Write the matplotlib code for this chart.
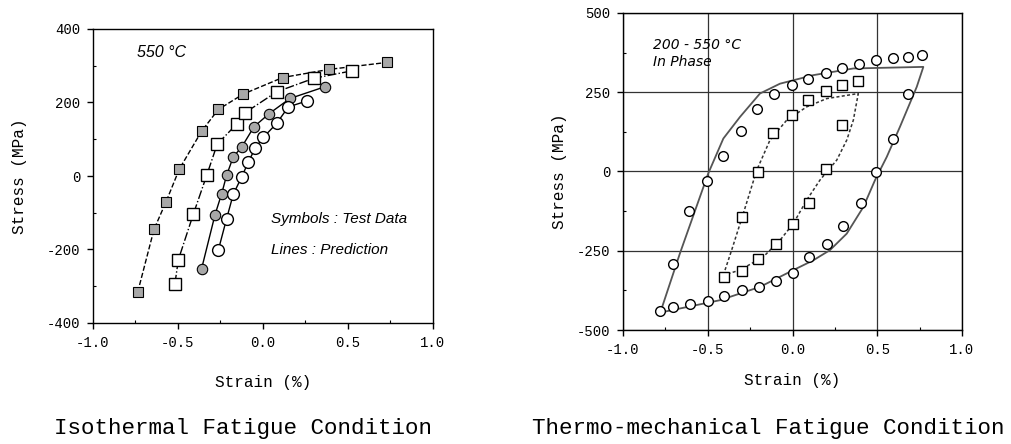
import matplotlib
matplotlib.use("Agg")
import matplotlib.pyplot as plt
from matplotlib.ticker import MultipleLocator

plt.rcParams['axes.unicode_minus'] = False

# ISOTHERMAL DATA (550 C), FOUR CURVES
iso_a_strain = [-0.737, -0.641, -0.571, -0.492, -0.361, -0.263, -0.116, 0.116, 0.388, 0.728]
iso_a_stress = [-316, -145, -71, 19, 122, 181, 223, 268, 290, 309]
iso_b_strain = [-0.518, -0.498, -0.41, -0.331, -0.269, -0.155, -0.106, 0.08, 0.3, 0.522]
iso_b_stress = [-293, -228, -104, 2, 87, 141, 172, 229, 266, 286]
iso_c_strain = [-0.361, -0.282, -0.243, -0.214, -0.175, -0.125, -0.053, 0.037, 0.159, 0.365]
iso_c_stress = [-252, -105, -48, 2, 52, 79, 134, 170, 211, 243]
iso_d_strain = [-0.263, -0.214, -0.175, -0.125, -0.086, -0.047, 0.002, 0.08, 0.149, 0.257]
iso_d_stress = [-202, -116, -50, -2, 38, 75, 105, 143, 188, 204]

# TMF TEST DATA, OUTER LOOP (CIRCLES)
tmf_up_strain = [-0.782, -0.703, -0.609, -0.503, -0.408, -0.306, -0.208, -0.109, -0.003,
                 0.093, 0.196, 0.29, 0.394, 0.491, 0.591, 0.684, 0.762]
tmf_up_stress = [-440, -293, -124, -30, 49, 128, 196, 246, 274,
                 293, 312, 327, 338, 351, 359, 361, 366]
tmf_dn_strain = [0.684, 0.595, 0.493, 0.402, 0.3, 0.202, 0.099, 0.005, -0.097,
                 -0.198, -0.3, -0.404, -0.497, -0.605, -0.703]
tmf_dn_stress = [243, 104, -3, -98, -172, -229, -269, -320, -345,
                 -364, -374, -393, -409, -418, -429]

# TMF TEST DATA, INNER LOOP (SQUARES)
sq_strain = [-0.404, -0.3, -0.202, -0.113, -0.005, 0.093, 0.196, 0.294, 0.388,
             0.294, 0.198, 0.099, 0.005, -0.097, -0.202, -0.3]
sq_stress = [-334, -145, -1, 120, 177, 225, 254, 272, 285,
             146, 9, -98, -167, -228, -276, -313]

# TMF PREDICTION, OUTER LOOP
pr_out_strain = [-0.78, -0.664, -0.497, -0.408, -0.31, -0.192, -0.074, 0.123, 0.359, 0.772,
                 0.733, 0.634, 0.556, 0.487, 0.418, 0.32, 0.221, 0.123, 0.005, -0.192,
                 -0.428, -0.78]
pr_out_stress = [-445, -258, -6, 104, 172, 246, 277, 304, 325, 330,
                 267, 141, 46, -27, -112, -196, -248, -280, -311, -364,
                 -406, -445]

# TMF PREDICTION, INNER LOOP
pr_in_strain = [-0.408, -0.359, -0.29, -0.211, -0.133, -0.034, 0.084, 0.202, 0.388,
                0.359, 0.32, 0.261, 0.162, 0.084, 0.005, -0.074, -0.172, -0.31, -0.408]
pr_in_stress = [-327, -248, -132, 4, 99, 162, 204, 230, 246,
                162, 99, 36, -27, -90, -164, -217, -269, -311, -327]

mono = "Liberation Mono"

fig = plt.figure(figsize=(10.12, 4.44), dpi=100)

# LEFT PANEL
ax1 = fig.add_axes([93 / 1012, 121 / 444, 340 / 1012, 294 / 444])
ax1.plot(iso_a_strain, iso_a_stress, ls="--", color="black", lw=1,
         marker="s", ms=7, mfc="#a8a8a8", mec="black", mew=0.8)
ax1.plot(iso_b_strain, iso_b_stress, ls="-.", color="black", lw=1,
         marker="s", ms=8, mfc="white", mec="black", mew=1)
ax1.plot(iso_c_strain, iso_c_stress, ls="-", color="black", lw=1,
         marker="o", ms=7.5, mfc="#a8a8a8", mec="black", mew=0.8)
ax1.plot(iso_d_strain, iso_d_stress, ls="-", color="black", lw=1,
         marker="o", ms=8.5, mfc="white", mec="black", mew=1)
ax1.set_xlim(-1, 1)
ax1.set_ylim(-400, 400)
ax1.xaxis.set_major_locator(MultipleLocator(0.5))
ax1.xaxis.set_minor_locator(MultipleLocator(0.25))
ax1.yaxis.set_major_locator(MultipleLocator(200))
ax1.yaxis.set_minor_locator(MultipleLocator(100))
ax1.text(-0.74, 337, "550 °C", style="italic", fontsize=11.5, family="Liberation Sans",
         va="center")
ax1.text(0.05, -118, "Symbols : Test Data", style="italic", fontsize=11,
         family="Liberation Sans", va="center")
ax1.text(0.05, -202, "Lines : Prediction", style="italic", fontsize=11,
         family="Liberation Sans", va="center")

# RIGHT PANEL
ax2 = fig.add_axes([623 / 1012, 114 / 444, 339 / 1012, 317 / 444])
ax2.grid(True, which="major", color="#333333", lw=0.9)
ax2.set_axisbelow(True)
ax2.plot(pr_out_strain, pr_out_stress, ls="-", color="#555555", lw=1.3)
ax2.plot(pr_in_strain, pr_in_stress, ls=(0, (2, 1.5)), color="#333333", lw=1.1)
ax2.plot(tmf_up_strain, tmf_up_stress, ls="none", marker="o", ms=7,
         mfc="white", mec="black", mew=1)
ax2.plot(tmf_dn_strain, tmf_dn_stress, ls="none", marker="o", ms=7,
         mfc="white", mec="black", mew=1)
ax2.plot(sq_strain, sq_stress, ls="none", marker="s", ms=6.5,
         mfc="white", mec="black", mew=1)
ax2.set_xlim(-1, 1)
ax2.set_ylim(-500, 500)
ax2.xaxis.set_major_locator(MultipleLocator(0.5))
ax2.xaxis.set_minor_locator(MultipleLocator(0.25))
ax2.yaxis.set_major_locator(MultipleLocator(250))
ax2.yaxis.set_minor_locator(MultipleLocator(125))
ax2.text(-0.823, 398, "200 - 550 °C", style="italic", fontsize=10,
         family="DejaVu Sans", va="center")
ax2.text(-0.823, 345, "In Phase", style="italic", fontsize=10,
         family="DejaVu Sans", va="center")

for ax, xl, yl in [(ax1, -0.204, -0.215), (ax2, -0.158, -0.186)]:
    ax.tick_params(which="major", direction="out", length=4, width=1,
                   labelsize=10, pad=5)
    ax.tick_params(which="minor", direction="in", length=2.5, width=0.8)
    for lab in ax.get_xticklabels() + ax.get_yticklabels():
        lab.set_family(mono)
    for s in ax.spines.values():
        s.set_linewidth(1)
    ax.set_xlabel("Strain (%)", family=mono, fontsize=11.5, va="center")
    ax.set_ylabel("Stress (MPa)", family=mono, fontsize=11.5, va="center")
    ax.xaxis.set_label_coords(0.5, xl)
    ax.yaxis.set_label_coords(yl, 0.5)

fig.text(243 / 1012, 1 - 428 / 444, "Isothermal Fatigue Condition", family=mono,
         fontsize=16.2, ha="center", va="center")
fig.text(768 / 1012, 1 - 428 / 444, "Thermo-mechanical Fatigue Condition", family=mono,
         fontsize=16.2, ha="center", va="center")

fig.savefig("out.png", dpi=100)
